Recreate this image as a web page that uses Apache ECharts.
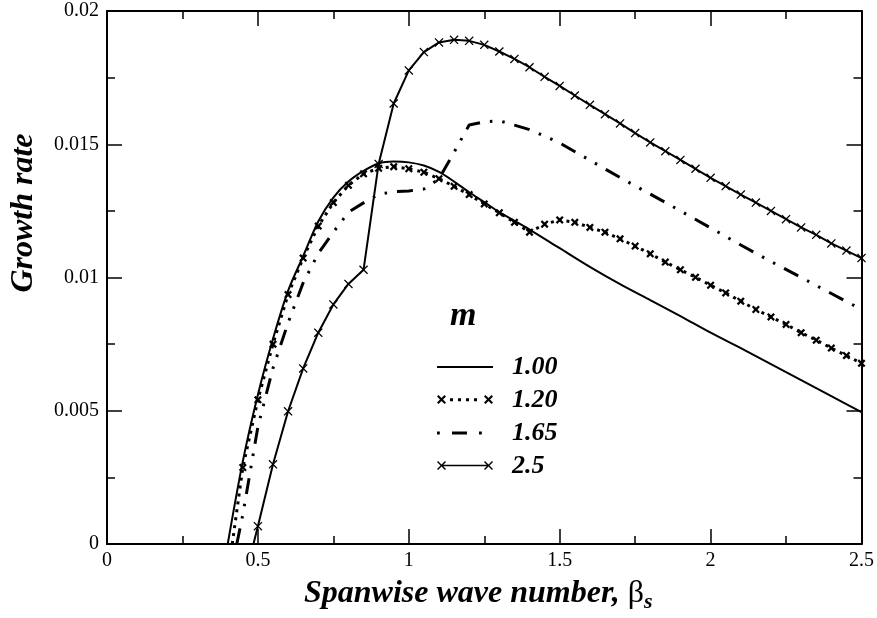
<!DOCTYPE html>
<html>
<head>
<meta charset="utf-8">
<script src="https://cdn.jsdelivr.net/npm/echarts@6/dist/echarts.min.js"></script>
<style>
html,body{margin:0;padding:0;background:#fff;}
#chart{width:877px;height:618px;}
</style>
</head>
<body>
<div id="chart"></div>
<script>
// ---------- data ----------
const seriesNames = ['1.00', '1.20', '1.65', '2.5'];

const beta100 = [0.40,0.45,0.50,0.55,0.60,0.65,0.70,0.75,0.80,0.85,0.90,0.95,1.00,1.05,1.10,1.15,1.20,1.25,1.30,1.40,1.50,1.60,1.70,1.80,1.90,2.00,2.10,2.20,2.30,2.40,2.50];
const rate100 = [0,0.0031,0.0056,0.0077,0.0095,0.0108,0.0121,0.0130,0.0136,0.0140,0.01428,0.01435,0.01432,0.0142,0.01396,0.0136,0.0132,0.01283,0.01245,0.0118,0.0111,0.0104,0.00975,0.00915,0.00855,0.00793,0.00735,0.00675,0.00615,0.00555,0.00495];

const beta120 = [0.415,0.45,0.50,0.55,0.60,0.65,0.70,0.75,0.80,0.85,0.90,0.95,1.00,1.05,1.10,1.15,1.20,1.25,1.30,1.35,1.40,1.45,1.50,1.55,1.60,1.65,1.70,1.75,1.80,1.85,1.90,1.95,2.00,2.05,2.10,2.15,2.20,2.25,2.30,2.35,2.40,2.45,2.50];
const rate120 = [0,0.00287,0.00541,0.0075,0.00936,0.01073,0.01193,0.01281,0.01346,0.01389,0.0141,0.01416,0.01408,0.01395,0.01371,0.01342,0.01311,0.01276,0.01243,0.01207,0.0117,0.012,0.01216,0.01207,0.01188,0.0117,0.01145,0.01118,0.01089,0.01058,0.01029,0.01001,0.00971,0.00942,0.00911,0.0088,0.00852,0.00824,0.00793,0.00765,0.00735,0.00707,0.00678];

const beta165 = [0.43,0.45,0.50,0.55,0.60,0.65,0.70,0.75,0.80,0.85,0.90,0.95,1.00,1.05,1.10,1.15,1.20,1.25,1.30,1.35,1.40,1.50,1.60,1.70,1.80,1.90,2.00,2.10,2.20,2.30,2.40,2.50];
const rate165 = [0,0.0011,0.0044,0.0066,0.0083,0.0098,0.0109,0.0117,0.01245,0.0128,0.01312,0.01322,0.01325,0.01332,0.0137,0.0147,0.01572,0.01584,0.01588,0.01572,0.01555,0.01505,0.0144,0.01375,0.01313,0.0125,0.01186,0.01122,0.0106,0.0100,0.0094,0.0088];

const beta25 = [0.45,0.50,0.55,0.60,0.65,0.70,0.75,0.80,0.85,0.90,0.95,1.00,1.05,1.10,1.15,1.20,1.25,1.30,1.35,1.40,1.45,1.50,1.55,1.60,1.65,1.70,1.75,1.80,1.85,1.90,1.95,2.00,2.05,2.10,2.15,2.20,2.25,2.30,2.35,2.40,2.45,2.50];
const rate25 = [-0.0016,0.00067,0.00299,0.00498,0.00659,0.00793,0.00899,0.00976,0.01029,0.01426,0.01653,0.01777,0.01846,0.01882,0.01892,0.01888,0.01873,0.01848,0.0182,0.01789,0.01753,0.01719,0.01683,0.01648,0.01613,0.01578,0.01542,0.01507,0.01474,0.01441,0.01408,0.01374,0.01343,0.01311,0.01281,0.0125,0.01219,0.01188,0.0116,0.01128,0.01101,0.01073];

const xTickLabels = ['0', '0.5', '1', '1.5', '2', '2.5'];
const yTickLabels = ['0', '0.005', '0.01', '0.015', '0.02'];

const xTitle = 'Spanwise wave number, ';
const yTitle = 'Growth rate';
const legendTitle = 'm';

// ---------- styling ----------
const SERIF = '"Liberation Serif", "Times New Roman", serif';
const X_THIN = 'path://M0,1L1,0L5,4L9,0L10,1L6,5L10,9L9,10L5,6L1,10L0,9L4,5Z';
const X_BOLD = 'path://M0,2L2,0L5,3L8,0L10,2L7,5L10,8L8,10L5,7L2,10L0,8L3,5Z';

// legend icons (56 x 10 box, corner anchors keep the box)
const ANCH = 'M0,0L0.01,0L0,0.01ZM56,10L55.99,10L56,9.99Z';
const ICON_100 = 'path://' + ANCH + 'M0,4.1L56,4.1L56,5.9L0,5.9Z';
const ICON_120 = 'path://' + ANCH +
  'M0,1.5L1.5,0L4.5,3L7.5,0L9,1.5L6,4.5L9,7.5L7.5,9L4.5,6L1.5,9L0,7.5L3,4.5Z' +
  'M47,1.5L48.5,0L51.5,3L54.5,0L56,1.5L53,4.5L56,7.5L54.5,9L51.5,6L48.5,9L47,7.5L50,4.5Z' +
  'M13,3.3L16,3.3L16,6.3L13,6.3Z M21,3.3L24,3.3L24,6.3L21,6.3Z M29,3.3L32,3.3L32,6.3L29,6.3Z M37,3.3L40,3.3L40,6.3L37,6.3Z';
const ICON_165 = 'path://' + ANCH +
  'M0,3.6L2.8,3.6L2.8,6.4L0,6.4Z M15,3.6L30,3.6L30,6.4L15,6.4Z M42,3.6L44.8,3.6L44.8,6.4L42,6.4Z';
const ICON_25 = 'path://' + ANCH +
  'M0,1L1,0L4.5,3.5L8,0L9,1L5.5,4.5L9,8L8,9L4.5,5.5L1,9L0,8L3.5,4.5Z' +
  'M47,1L48,0L51.5,3.5L55,0L56,1L52.5,4.5L56,8L55,9L51.5,5.5L48,9L47,8L50.5,4.5Z' +
  'M4.5,3.7L51.5,3.7L51.5,5.3L4.5,5.3Z';

function pairs(xs, ys, hideFirstMarker) {
  return xs.map((x, i) => {
    const v = [x, ys[i]];
    if (hideFirstMarker && i === 0) return { value: v, symbol: 'none' };
    return v;
  });
}

const chart = echarts.init(document.getElementById('chart'), null, { renderer: 'canvas' });

const axisLineStyle = { color: '#000', width: 2 };
const baseX = {
  type: 'value', min: 0, max: 2.5, interval: 0.5,
  axisLine: { show: true, onZero: false, lineStyle: axisLineStyle },
  axisTick: { show: true, inside: true, length: 15, lineStyle: { color: '#000', width: 1.5 } },
  minorTick: { show: true, splitNumber: 2, length: 8, lineStyle: { color: '#000', width: 1.5 } },
  splitLine: { show: false }, minorSplitLine: { show: false }
};
const baseY = {
  type: 'value', min: 0, max: 0.02, interval: 0.005,
  axisLine: { show: true, onZero: false, lineStyle: axisLineStyle },
  axisTick: { show: true, inside: true, length: 15, lineStyle: { color: '#000', width: 1.5 } },
  minorTick: { show: true, splitNumber: 2, length: 8, lineStyle: { color: '#000', width: 1.5 } },
  splitLine: { show: false }, minorSplitLine: { show: false }
};

const option = {
  animation: false,
  backgroundColor: '#fff',
  grid: { left: 96, right: 15, top: 11, bottom: 70, containLabel: false },
  xAxis: [
    Object.assign({}, baseX, {
      position: 'bottom',
      axisLabel: { show: true, margin: 7, color: '#000', fontFamily: SERIF, fontSize: 20,
        formatter: (v, i) => xTickLabels[i] },
      name: xTitle + '{b|β}{s|s}',
      nameLocation: 'middle', nameGap: 31,
      nameTextStyle: { color: '#000', fontFamily: SERIF, fontSize: 32, fontWeight: 'bold', fontStyle: 'italic',
        padding: [0, 12, 0, 0],
        rich: {
          b: { fontFamily: SERIF, fontSize: 32, fontWeight: 'normal', fontStyle: 'normal', color: '#000' },
          s: { fontFamily: SERIF, fontSize: 22, fontWeight: 'bold', fontStyle: 'italic', color: '#000', padding: [16, 0, 0, 0] }
        } }
    }),
    Object.assign({}, baseX, { position: 'top', axisLabel: { show: false } })
  ],
  yAxis: [
    Object.assign({}, baseY, {
      position: 'left',
      axisLabel: { show: true, margin: 8, color: '#000', fontFamily: SERIF, fontSize: 20,
        formatter: (v, i) => yTickLabels[i] },
      name: yTitle, nameLocation: 'middle', nameGap: 67,
      nameTextStyle: { color: '#000', fontFamily: SERIF, fontSize: 32, fontWeight: 'bold', fontStyle: 'italic',
        padding: [0, 0, 0, 129] }
    }),
    Object.assign({}, baseY, { position: 'right', axisLabel: { show: false } })
  ],
  legend: {
    orient: 'vertical', left: 432, top: 349,
    itemWidth: 56, itemHeight: 10, itemGap: 7,
    selectedMode: false,
    itemStyle: { borderWidth: 0 },
    textStyle: { color: '#000', fontFamily: SERIF, fontSize: 26, fontWeight: 'bold', fontStyle: 'italic',
      lineHeight: 26, padding: [0, 0, 0, 14] },
    data: [
      { name: seriesNames[0], icon: ICON_100 },
      { name: seriesNames[1], icon: ICON_120 },
      { name: seriesNames[2], icon: ICON_165 },
      { name: seriesNames[3], icon: ICON_25 }
    ]
  },
  graphic: [
    { type: 'text', left: 450, top: 299,
      style: { text: legendTitle, fill: '#000', font: 'italic bold 34px ' + SERIF } }
  ],
  series: [
    {
      name: seriesNames[0], type: 'line', smooth: 0.3, showSymbol: false, symbol: 'none',
      lineStyle: { color: '#000', width: 2 }, itemStyle: { color: '#000', borderWidth: 0 },
      emphasis: { disabled: true }, clip: true,
      data: pairs(beta100, rate100, false)
    },
    {
      name: seriesNames[1], type: 'line', symbol: X_BOLD, symbolSize: 8, showAllSymbol: true,
      lineStyle: { color: '#000', width: 3, type: [3, 5] }, itemStyle: { color: '#000', borderWidth: 0 },
      emphasis: { disabled: true }, clip: true,
      data: pairs(beta120, rate120, true)
    },
    {
      name: seriesNames[2], type: 'line', symbol: 'none', showSymbol: false,
      lineStyle: { color: '#000', width: 3, type: [16, 10, 2.5, 10, 2.5, 10] }, itemStyle: { color: '#000', borderWidth: 0 },
      emphasis: { disabled: true }, clip: true,
      data: pairs(beta165, rate165, false)
    },
    {
      name: seriesNames[3], type: 'line', symbol: X_THIN, symbolSize: 9, showAllSymbol: true,
      lineStyle: { color: '#000', width: 2 }, itemStyle: { color: '#000', borderWidth: 0 },
      emphasis: { disabled: true }, clip: true,
      data: pairs(beta25, rate25, true)
    }
  ]
};
chart.setOption(option);
</script>
</body>
</html>
